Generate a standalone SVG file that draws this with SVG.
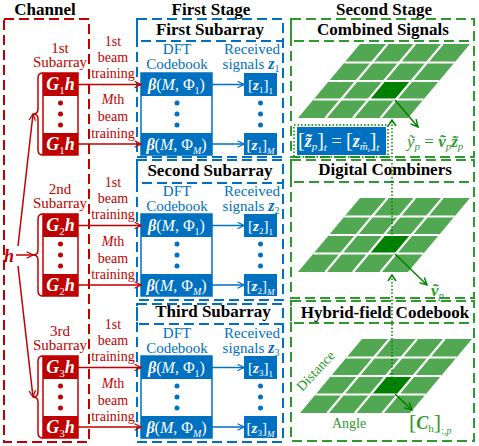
<svg xmlns="http://www.w3.org/2000/svg" width="479" height="446" viewBox="0 0 479 446" font-family="'Liberation Serif', 'Times New Roman', 'DejaVu Serif', serif">
<style>
svg, text, tspan { font-family: "Liberation Serif", "Times New Roman", "DejaVu Serif", serif; }
.hd { font-weight: bold; font-size: 17px; fill: #000; }
.rl { fill: #C00000; font-size: 14px; }
.sl { fill: #C00000; font-size: 15px; }
.bl { fill: #0070C0; font-size: 15px; }
.gl { fill: #2E9A2E; font-size: 14px; }
.w { fill: #fff; }
.bi { font-weight: bold; font-style: italic; }
.it { font-style: italic; }
.rbox { fill: none; stroke: #C00000; stroke-width: 2; stroke-dasharray: 10 5; }
.bbox { fill: none; stroke: #0070C0; stroke-width: 2; stroke-dasharray: 10 5; }
.gbox { fill: none; stroke: #2E9A2E; stroke-width: 2; stroke-dasharray: 10 5; }
.rfill { fill: #C00000; }
.bfill { fill: #0070C0; }
.rarr { stroke: #C00000; stroke-width: 1.5; fill: none; marker-end: url(#mr); }
.barr { stroke: #0070C0; stroke-width: 1.5; fill: none; marker-end: url(#mb); }
.garr { stroke: #008000; stroke-width: 1.5; fill: none; marker-end: url(#mg); }
.dot-g { stroke: #008000; stroke-width: 1.5; fill: none; stroke-dasharray: 1.5 2; }
.brace { stroke: #C00000; stroke-width: 1.5; fill: none; }
.gridline { stroke: #fff; stroke-width: 2.2; }
</style>
<defs>
<marker id="mr" viewBox="0 0 10 10" refX="9" refY="5" markerWidth="8" markerHeight="8" markerUnits="userSpaceOnUse" orient="auto"><path d="M1,1 L9,5 L1,9" fill="none" stroke="#C00000" stroke-width="1.6"/></marker>
<marker id="mb" viewBox="0 0 10 10" refX="9" refY="5" markerWidth="8" markerHeight="8" markerUnits="userSpaceOnUse" orient="auto"><path d="M1,1 L9,5 L1,9" fill="none" stroke="#0070C0" stroke-width="1.6"/></marker>
<marker id="mg" viewBox="0 0 10 10" refX="9" refY="5" markerWidth="9" markerHeight="9" markerUnits="userSpaceOnUse" orient="auto"><path d="M1,1 L9,5 L1,9" fill="none" stroke="#008000" stroke-width="1.6"/></marker>
<g id="grid">
<polygon points="0,0 110,0 48,74 -62,74" fill="#52A852"/>
<polygon points="24,37 51.5,37 36,55.5 8.5,55.5" fill="#008000"/>
<line class="gridline" x1="-15.5" y1="18.5" x2="94.5" y2="18.5"/>
<line class="gridline" x1="-31" y1="37" x2="79" y2="37"/>
<line class="gridline" x1="-46.5" y1="55.5" x2="63.5" y2="55.5"/>
<line class="gridline" x1="27.5" y1="0" x2="-34.5" y2="74"/>
<line class="gridline" x1="55" y1="0" x2="-7" y2="74"/>
<line class="gridline" x1="82.5" y1="0" x2="20.5" y2="74"/>
</g>
</defs>
<rect width="479" height="446" fill="#fff"/>

<!-- Titles -->
<text class="hd" x="45" y="15" text-anchor="middle">Channel</text>
<text class="hd" x="211" y="15" text-anchor="middle">First Stage</text>
<text class="hd" x="384" y="15" text-anchor="middle">Second Stage</text>

<!-- Channel -->
<g id="channel">
<rect class="rbox" x="4" y="19" width="85" height="423"/>
<text class="bi" x="4" y="262" font-size="18" fill="#C00000">h</text>
</g>

<g id="subarray1-channel">
<text class="sl" x="60" y="53" text-anchor="middle">1st</text>
<text class="sl" x="60" y="67" text-anchor="middle">Subarray</text>
<rect x="43" y="73" width="35" height="82" fill="#fff" stroke="#C00000" stroke-width="1.5"/>
<rect class="rfill" x="43" y="73" width="35" height="23"/>
<rect class="rfill" x="43" y="133" width="35" height="22"/>
<circle cx="60.5" cy="103" r="2.5" fill="#C00000"/><circle cx="60.5" cy="114" r="2.5" fill="#C00000"/><circle cx="60.5" cy="125" r="2.5" fill="#C00000"/>
<text class="w" x="60.5" y="90" text-anchor="middle" font-size="18"><tspan class="bi">G</tspan><tspan font-size="11" dy="4">1</tspan><tspan class="bi" dy="-4">h</tspan></text>
<text class="w" x="60.5" y="150" text-anchor="middle" font-size="18"><tspan class="bi">G</tspan><tspan font-size="11" dy="4">1</tspan><tspan class="bi" dy="-4">h</tspan></text>
<path class="brace" d="M43,73 Q38,73 38,78 L38,109 Q38,114 33,114 Q38,114 38,119 L38,150 Q38,155 43,155"/>
</g>

<g id="subarray2-channel">
<text class="sl" x="60" y="194" text-anchor="middle">2nd</text>
<text class="sl" x="60" y="208" text-anchor="middle">Subarray</text>
<rect x="43" y="214" width="35" height="82" fill="#fff" stroke="#C00000" stroke-width="1.5"/>
<rect class="rfill" x="43" y="214" width="35" height="23"/>
<rect class="rfill" x="43" y="274" width="35" height="22"/>
<circle cx="60.5" cy="244" r="2.5" fill="#C00000"/><circle cx="60.5" cy="255" r="2.5" fill="#C00000"/><circle cx="60.5" cy="266" r="2.5" fill="#C00000"/>
<text class="w" x="60.5" y="231" text-anchor="middle" font-size="18"><tspan class="bi">G</tspan><tspan font-size="11" dy="4">2</tspan><tspan class="bi" dy="-4">h</tspan></text>
<text class="w" x="60.5" y="291" text-anchor="middle" font-size="18"><tspan class="bi">G</tspan><tspan font-size="11" dy="4">2</tspan><tspan class="bi" dy="-4">h</tspan></text>
<path class="brace" d="M43,214 Q38,214 38,219 L38,250 Q38,255 33,255 Q38,255 38,260 L38,291 Q38,296 43,296"/>
</g>

<g id="subarray3-channel">
<text class="sl" x="60" y="336" text-anchor="middle">3rd</text>
<text class="sl" x="60" y="350" text-anchor="middle">Subarray</text>
<rect x="43" y="356" width="35" height="82" fill="#fff" stroke="#C00000" stroke-width="1.5"/>
<rect class="rfill" x="43" y="356" width="35" height="23"/>
<rect class="rfill" x="43" y="416" width="35" height="22"/>
<circle cx="60.5" cy="386" r="2.5" fill="#C00000"/><circle cx="60.5" cy="397" r="2.5" fill="#C00000"/><circle cx="60.5" cy="408" r="2.5" fill="#C00000"/>
<text class="w" x="60.5" y="373" text-anchor="middle" font-size="18"><tspan class="bi">G</tspan><tspan font-size="11" dy="4">3</tspan><tspan class="bi" dy="-4">h</tspan></text>
<text class="w" x="60.5" y="433" text-anchor="middle" font-size="18"><tspan class="bi">G</tspan><tspan font-size="11" dy="4">3</tspan><tspan class="bi" dy="-4">h</tspan></text>
<path class="brace" d="M43,356 Q38,356 38,361 L38,392 Q38,397 33,397 Q38,397 38,402 L38,433 Q38,438 43,438"/>
</g>

<!-- First Stage -->
<g id="first-subarray">
<rect class="bbox" x="137" y="19" width="146" height="138"/>
<rect class="bbox" x="137" y="19" width="146" height="22"/>
<text class="hd" x="210" y="35" text-anchor="middle">First Subarray</text>
<text class="bl" x="177" y="54" text-anchor="middle">DFT</text>
<text class="bl" x="177" y="69" text-anchor="middle">Codebook</text>
<text class="bl" x="252" y="54" text-anchor="middle">Received</text>
<text class="bl" x="251" y="69" text-anchor="middle">signals<tspan class="bi" font-size="16"> z</tspan><tspan font-size="10" dy="3">1</tspan></text>
<rect x="141" y="73" width="71" height="82" fill="#fff" stroke="#0070C0" stroke-width="1.5"/>
<rect class="bfill" x="141" y="73" width="71" height="23"/>
<rect class="bfill" x="141" y="133" width="71" height="22"/>
<circle cx="177" cy="103" r="2.5" fill="#0070C0"/><circle cx="177" cy="114" r="2.5" fill="#0070C0"/><circle cx="177" cy="125" r="2.5" fill="#0070C0"/>
<text class="w" x="176.5" y="90" text-anchor="middle" font-size="16"><tspan class="bi">β</tspan>(<tspan class="it">M</tspan>, Φ<tspan font-size="10" dy="4">1</tspan><tspan dy="-4">)</tspan></text>
<text class="w" x="176.5" y="150" text-anchor="middle" font-size="16"><tspan class="bi">β</tspan>(<tspan class="it">M</tspan>, Φ<tspan class="it" font-size="10" dy="4">M</tspan><tspan dy="-4">)</tspan></text>
<rect class="bfill" x="244" y="73" width="33" height="23"/>
<rect class="bfill" x="244" y="133" width="33" height="22"/>
<circle cx="260.5" cy="103" r="2.5" fill="#0070C0"/><circle cx="260.5" cy="114" r="2.5" fill="#0070C0"/><circle cx="260.5" cy="125" r="2.5" fill="#0070C0"/>
<text class="w" x="260.5" y="90" text-anchor="middle" font-size="15">[<tspan class="bi">z</tspan><tspan font-size="9" dy="3">1</tspan><tspan dy="-3">]</tspan><tspan font-size="9" dy="4">1</tspan></text>
<text class="w" x="260.5" y="150" text-anchor="middle" font-size="15">[<tspan class="bi">z</tspan><tspan font-size="9" dy="3">1</tspan><tspan dy="-3">]</tspan><tspan class="it" font-size="9" dy="4">M</tspan></text>
</g>

<g id="second-subarray">
<rect class="bbox" x="137" y="160" width="146" height="140"/>
<rect class="bbox" x="137" y="160" width="146" height="23"/>
<text class="hd" x="210" y="176" text-anchor="middle">Second Subarray</text>
<text class="bl" x="177" y="196" text-anchor="middle">DFT</text>
<text class="bl" x="177" y="211" text-anchor="middle">Codebook</text>
<text class="bl" x="252" y="196" text-anchor="middle">Received</text>
<text class="bl" x="251" y="211" text-anchor="middle">signals<tspan class="bi" font-size="16"> z</tspan><tspan font-size="10" dy="3">2</tspan></text>
<rect x="141" y="214" width="71" height="82" fill="#fff" stroke="#0070C0" stroke-width="1.5"/>
<rect class="bfill" x="141" y="214" width="71" height="23"/>
<rect class="bfill" x="141" y="274" width="71" height="22"/>
<circle cx="177" cy="244" r="2.5" fill="#0070C0"/><circle cx="177" cy="255" r="2.5" fill="#0070C0"/><circle cx="177" cy="266" r="2.5" fill="#0070C0"/>
<text class="w" x="176.5" y="231" text-anchor="middle" font-size="16"><tspan class="bi">β</tspan>(<tspan class="it">M</tspan>, Φ<tspan font-size="10" dy="4">1</tspan><tspan dy="-4">)</tspan></text>
<text class="w" x="176.5" y="291" text-anchor="middle" font-size="16"><tspan class="bi">β</tspan>(<tspan class="it">M</tspan>, Φ<tspan class="it" font-size="10" dy="4">M</tspan><tspan dy="-4">)</tspan></text>
<rect class="bfill" x="244" y="214" width="33" height="23"/>
<rect class="bfill" x="244" y="274" width="33" height="22"/>
<circle cx="260.5" cy="244" r="2.5" fill="#0070C0"/><circle cx="260.5" cy="255" r="2.5" fill="#0070C0"/><circle cx="260.5" cy="266" r="2.5" fill="#0070C0"/>
<text class="w" x="260.5" y="231" text-anchor="middle" font-size="15">[<tspan class="bi">z</tspan><tspan font-size="9" dy="3">2</tspan><tspan dy="-3">]</tspan><tspan font-size="9" dy="4">1</tspan></text>
<text class="w" x="260.5" y="291" text-anchor="middle" font-size="15">[<tspan class="bi">z</tspan><tspan font-size="9" dy="3">2</tspan><tspan dy="-3">]</tspan><tspan class="it" font-size="9" dy="4">M</tspan></text>
</g>

<g id="third-subarray">
<rect class="bbox" x="137" y="304" width="146" height="138"/>
<rect class="bbox" x="137" y="304" width="146" height="20"/>
<text class="hd" x="213" y="317" text-anchor="middle">Third Subarray</text>
<text class="bl" x="177" y="338" text-anchor="middle">DFT</text>
<text class="bl" x="177" y="353" text-anchor="middle">Codebook</text>
<text class="bl" x="252" y="338" text-anchor="middle">Received</text>
<text class="bl" x="251" y="353" text-anchor="middle">signals<tspan class="bi" font-size="16"> z</tspan><tspan font-size="10" dy="3">3</tspan></text>
<rect x="141" y="356" width="71" height="82" fill="#fff" stroke="#0070C0" stroke-width="1.5"/>
<rect class="bfill" x="141" y="356" width="71" height="23"/>
<rect class="bfill" x="141" y="416" width="71" height="22"/>
<circle cx="177" cy="386" r="2.5" fill="#0070C0"/><circle cx="177" cy="397" r="2.5" fill="#0070C0"/><circle cx="177" cy="408" r="2.5" fill="#0070C0"/>
<text class="w" x="176.5" y="373" text-anchor="middle" font-size="16"><tspan class="bi">β</tspan>(<tspan class="it">M</tspan>, Φ<tspan font-size="10" dy="4">1</tspan><tspan dy="-4">)</tspan></text>
<text class="w" x="176.5" y="433" text-anchor="middle" font-size="16"><tspan class="bi">β</tspan>(<tspan class="it">M</tspan>, Φ<tspan class="it" font-size="10" dy="4">M</tspan><tspan dy="-4">)</tspan></text>
<rect class="bfill" x="244" y="356" width="33" height="23"/>
<rect class="bfill" x="244" y="416" width="33" height="22"/>
<circle cx="260.5" cy="386" r="2.5" fill="#0070C0"/><circle cx="260.5" cy="397" r="2.5" fill="#0070C0"/><circle cx="260.5" cy="408" r="2.5" fill="#0070C0"/>
<text class="w" x="260.5" y="373" text-anchor="middle" font-size="15">[<tspan class="bi">z</tspan><tspan font-size="9" dy="3">3</tspan><tspan dy="-3">]</tspan><tspan font-size="9" dy="4">1</tspan></text>
<text class="w" x="260.5" y="433" text-anchor="middle" font-size="15">[<tspan class="bi">z</tspan><tspan font-size="9" dy="3">3</tspan><tspan dy="-3">]</tspan><tspan class="it" font-size="9" dy="4">M</tspan></text>
</g>

<!-- Second Stage -->
<g id="combined-signals">
<rect class="gbox" x="291" y="19" width="183" height="138"/>
<rect class="gbox" x="291" y="19" width="183" height="22"/>
<text class="hd" x="383" y="35" text-anchor="middle">Combined Signals</text>
<use href="#grid" x="360" y="44"/>
<rect x="294" y="125" width="94" height="32" fill="none" stroke="#008000" stroke-width="1.5" stroke-dasharray="1.5 2"/>
<rect class="bfill" x="297" y="127" width="89" height="28"/>
<text class="w" x="298" y="147" font-size="18"><tspan font-size="20">[</tspan><tspan class="bi">z̃</tspan><tspan class="it" font-size="11" dy="3">p</tspan><tspan font-size="20" dy="-3">]</tspan><tspan class="it" font-size="11" dy="4">t</tspan><tspan dy="-4"> = </tspan><tspan font-size="20">[</tspan><tspan class="bi">z</tspan><tspan class="it" font-size="11" dy="3">m̃</tspan><tspan class="it" font-size="7" dy="2">t</tspan><tspan font-size="20" dy="-5">]</tspan><tspan class="it" font-size="11" dy="4">t</tspan></text>
<text x="407" y="147" font-size="17" fill="#2E9A2E"><tspan class="it">ỹ</tspan><tspan class="it" font-size="11" dy="3">p</tspan><tspan dy="-3"> = </tspan><tspan class="bi">ṽ</tspan><tspan class="it" font-size="11" dy="3">p</tspan><tspan class="bi" dy="-3">z̃</tspan><tspan class="it" font-size="11" dy="3">p</tspan></text>
</g>

<g id="digital-combiners">
<rect class="gbox" x="291" y="160" width="183" height="138"/>
<rect class="gbox" x="291" y="160" width="183" height="22"/>
<text class="hd" x="385" y="175" text-anchor="middle">Digital Combiners</text>
<use href="#grid" x="360" y="198"/>
<text x="431" y="296" font-size="17" fill="#2E9A2E"><tspan class="bi">ṽ</tspan><tspan class="it" font-size="11" dy="3">p</tspan></text>
</g>

<g id="hybrid-codebook">
<rect class="gbox" x="291" y="301" width="183" height="140"/>
<rect class="gbox" x="291" y="301" width="183" height="22"/>
<text class="hd" x="385" y="318" text-anchor="middle">Hybrid-field Codebook</text>
<use href="#grid" x="362" y="339"/>
<text class="gl" x="319" y="374" text-anchor="middle" transform="rotate(-47 319 374)">Distance</text>
<text class="gl" x="349" y="428" text-anchor="middle">Angle</text>
<text x="409" y="429" font-size="22" fill="#2E9A2E">[<tspan class="bi" font-size="18">C</tspan><tspan font-size="11" dy="3">h</tspan><tspan dy="-3">]</tspan><tspan font-size="10" dy="5">:,</tspan><tspan class="it" font-size="10">p</tspan></text>
</g>

<!-- Connectors -->
<g id="connectors">
<line class="rarr" x1="16" y1="255" x2="33" y2="255"/>
<line class="rarr" x1="18" y1="246" x2="33" y2="114"/>
<line class="rarr" x1="18" y1="266" x2="33" y2="397"/>

<line class="rarr" x1="78" y1="84.5" x2="141" y2="84.5"/>
<line class="rarr" x1="78" y1="144" x2="141" y2="144"/>
<line class="rarr" x1="78" y1="225.5" x2="141" y2="225.5"/>
<line class="rarr" x1="78" y1="285" x2="141" y2="285"/>
<line class="rarr" x1="78" y1="367.5" x2="141" y2="367.5"/>
<line class="rarr" x1="78" y1="427" x2="141" y2="427"/>

<text class="rl" x="113" y="46" text-anchor="middle">1st</text>
<text class="rl" x="113" y="62" text-anchor="middle">beam</text>
<text class="rl" x="113" y="78" text-anchor="middle">training</text>
<text class="rl" x="113" y="104" text-anchor="middle"><tspan class="it">M</tspan>th</text>
<text class="rl" x="113" y="121" text-anchor="middle">beam</text>
<text class="rl" x="113" y="138" text-anchor="middle">training</text>

<text class="rl" x="113" y="187" text-anchor="middle">1st</text>
<text class="rl" x="113" y="203" text-anchor="middle">beam</text>
<text class="rl" x="113" y="219" text-anchor="middle">training</text>
<text class="rl" x="113" y="246" text-anchor="middle"><tspan class="it">M</tspan>th</text>
<text class="rl" x="113" y="263" text-anchor="middle">beam</text>
<text class="rl" x="113" y="279" text-anchor="middle">training</text>

<text class="rl" x="113" y="329" text-anchor="middle">1st</text>
<text class="rl" x="113" y="345" text-anchor="middle">beam</text>
<text class="rl" x="113" y="361" text-anchor="middle">training</text>
<text class="rl" x="113" y="388" text-anchor="middle"><tspan class="it">M</tspan>th</text>
<text class="rl" x="113" y="405" text-anchor="middle">beam</text>
<text class="rl" x="113" y="421" text-anchor="middle">training</text>

<line class="barr" x1="212" y1="84.5" x2="244" y2="84.5"/>
<line class="barr" x1="212" y1="144" x2="244" y2="144"/>
<line class="barr" x1="212" y1="225.5" x2="244" y2="225.5"/>
<line class="barr" x1="212" y1="285" x2="244" y2="285"/>
<line class="barr" x1="212" y1="367.5" x2="244" y2="367.5"/>
<line class="barr" x1="212" y1="427" x2="244" y2="427"/>

<line class="garr" x1="395" y1="100" x2="418" y2="127"/>
<line class="garr" x1="395" y1="254" x2="427" y2="285"/>
<line class="garr" x1="395" y1="394" x2="412" y2="410"/>

<path class="dot-g" d="M392,245 L392,121"/>
<path d="M388,126 L392,120 L396,126" fill="none" stroke="#008000" stroke-width="1.5"/>
<path class="dot-g" d="M392,385 L392,275"/>
<path d="M388,281 L392,275 L396,281" fill="none" stroke="#008000" stroke-width="1.5"/>
</g>
</svg>
